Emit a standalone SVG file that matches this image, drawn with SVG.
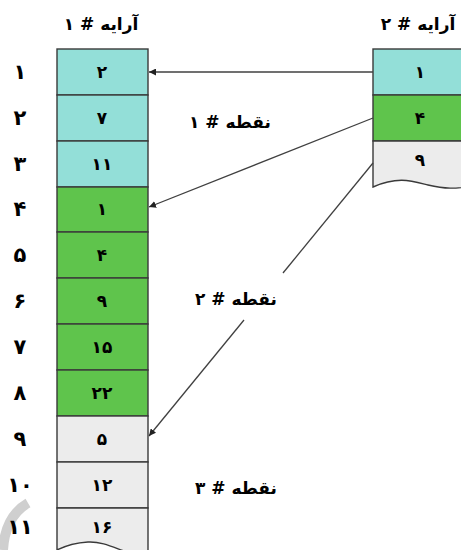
<svg xmlns="http://www.w3.org/2000/svg" width="461" height="550" viewBox="0 0 461 550">
<defs>
<style>
.cyan{fill:#93dfd8;stroke:#3a3a3a;stroke-width:1.4}
.green{fill:#5fc44c;stroke:#3a3a3a;stroke-width:1.4}
.grey{fill:#ececec;stroke:#3a3a3a;stroke-width:1.4}
.edge{fill:none;stroke:#9a9a9a;stroke-width:1}
.val{font-family:"DejaVu Sans",sans-serif;font-weight:bold;font-size:17px;fill:#000;text-anchor:middle;dominant-baseline:central}
.idx{font-family:"DejaVu Sans",sans-serif;font-weight:bold;font-size:21px;fill:#000;text-anchor:middle;dominant-baseline:central}
.lbl{font-family:"DejaVu Sans",sans-serif;font-weight:bold;font-size:17px;fill:#000;text-anchor:middle;dominant-baseline:central;direction:rtl;unicode-bidi:embed}
.conn{fill:none;stroke:#404040;stroke-width:1.3}
</style>
<marker id="arr" viewBox="0 0 10 10" refX="10" refY="5" markerWidth="7" markerHeight="7" orient="auto" markerUnits="userSpaceOnUse">
<path d="M0,0 L10,5 L0,10 z" fill="#222"/>
</marker>
</defs>
<rect width="461" height="550" fill="#fff"/>
<path d="M3,550 C4,530 12,512 28,503" fill="none" stroke="#cfcfcf" stroke-width="10"/>

<g id="array1">
<text class="lbl" x="101" y="24">آرایه # ۱</text>
<g id="a1-r1"><rect class="cyan" x="57" y="49" width="91" height="46"/><text class="val" x="102" y="72">۲</text><text class="idx" x="20" y="72">۱</text></g>
<g id="a1-r2"><rect class="cyan" x="57" y="95" width="91" height="46"/><text class="val" x="102" y="118">۷</text><text class="idx" x="20" y="118">۲</text></g>
<g id="a1-r3"><rect class="cyan" x="57" y="141" width="91" height="46"/><text class="val" x="102" y="164">۱۱</text><text class="idx" x="20" y="164">۳</text></g>
<g id="a1-r4"><rect class="green" x="57" y="187" width="91" height="45"/><text class="val" x="102" y="209">۱</text><text class="idx" x="20" y="209">۴</text></g>
<g id="a1-r5"><rect class="green" x="57" y="232" width="91" height="46"/><text class="val" x="102" y="255">۴</text><text class="idx" x="20" y="255">۵</text></g>
<g id="a1-r6"><rect class="green" x="57" y="278" width="91" height="46"/><text class="val" x="102" y="301">۹</text><text class="idx" x="20" y="301">۶</text></g>
<g id="a1-r7"><rect class="green" x="57" y="324" width="91" height="46"/><text class="val" x="102" y="347">۱۵</text><text class="idx" x="20" y="347">۷</text></g>
<g id="a1-r8"><rect class="green" x="57" y="370" width="91" height="46"/><text class="val" x="102" y="393">۲۲</text><text class="idx" x="20" y="393">۸</text></g>
<g id="a1-r9"><rect class="grey" x="57" y="416" width="91" height="46"/><text class="val" x="102" y="439">۵</text><text class="idx" x="20" y="439">۹</text></g>
<g id="a1-r10"><rect class="grey" x="57" y="462" width="91" height="46"/><text class="val" x="102" y="485">۱۲</text><text class="idx" x="20" y="485">۱۰</text></g>
<g id="a1-r11"><path class="grey" d="M57,508 H148 V556 C125,556 110,541 88,542 C72,543 63,547 57,550 Z"/><text class="val" x="102" y="527">۱۶</text><text class="idx" x="20" y="527">۱۱</text></g>
</g>

<g id="array2">
<text class="lbl" x="418" y="24">آرایه # ۲</text>
<g id="a2-r1"><rect class="cyan" x="373" y="49" width="100" height="46"/><text class="val" x="420" y="72">۱</text></g>
<g id="a2-r2"><rect class="green" x="373" y="95" width="100" height="46"/><text class="val" x="420" y="118">۴</text></g>
<g id="a2-r3"><path class="grey" d="M373,141 H473 V186 C455,189 445,189 428,185 C412,181 398,176 373,187 Z"/><text class="val" x="420" y="160">۹</text></g>
</g>

<g id="connectors">
<line class="conn" x1="373" y1="72" x2="149" y2="72" marker-end="url(#arr)"/>
<line class="conn" x1="373" y1="118" x2="149" y2="207" marker-end="url(#arr)"/>
<line class="conn" x1="373" y1="163" x2="283" y2="273"/>
<line class="conn" x1="244" y1="320" x2="149" y2="436" marker-end="url(#arr)"/>
</g>

<g id="labels">
<text class="lbl" x="230" y="122">نقطه # ۱</text>
<text class="lbl" x="236" y="299">نقطه # ۲</text>
<text class="lbl" x="236" y="488">نقطه # ۳</text>
</g>
</svg>
